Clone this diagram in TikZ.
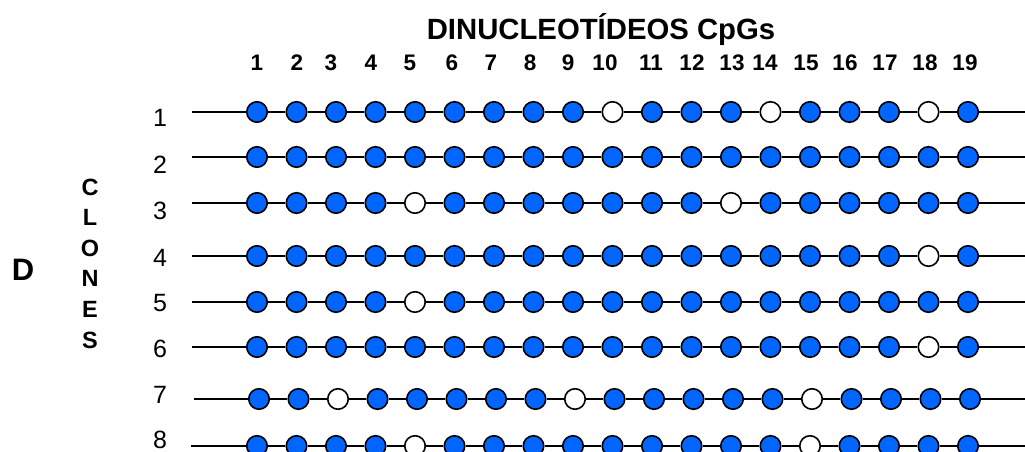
\documentclass[tikz,border=0pt]{standalone}
\usepackage{fontspec}
\setmainfont{Liberation Sans}
\definecolor{cpgblue}{RGB}{0,102,255}
\begin{document}
\begin{tikzpicture}[x=1pt,y=-1pt,
  meth/.style={circle,draw=black,line width=1.6pt,fill=cpgblue,minimum size=20.5pt,inner sep=0pt},
  unme/.style={meth,fill=white},
  strand/.style={line width=1.6pt,draw=black},
  collabel/.style={font=\fontsize{22.5}{22.5}\selectfont\bfseries,inner sep=0pt},
  rowlabel/.style={font=\fontsize{25}{25}\selectfont,inner sep=0pt},
  vletter/.style={font=\fontsize{23.5}{23.5}\selectfont\bfseries,inner sep=0pt}]
\useasboundingbox (0,0) rectangle (1025,452);
\clip (0,0) rectangle (1025,452);

\node[font=\fontsize{29.3}{30}\selectfont\bfseries,inner sep=0pt] (title) at (601,30) {DINUCLEOTÍDEOS CpGs};

\foreach \n/\x in {1/257,2/297,3/331,4/371,5/410,6/452,7/491,8/530,9/568,10/605,11/651,12/692,13/732,14/765,15/806,16/845,17/885,18/925,19/965}
  \node[collabel] (col\n) at (\x,63) {\n};

\node[font=\fontsize{31}{31}\selectfont\bfseries,inner sep=0pt] (dlabel) at (23,270) {D};

\foreach \l [count=\k] in {C,L,O,N,E,S}
  \node[vletter] (cl\k) at (90,{187+30.6*(\k-1)}) {\l};

\foreach \r/\y/\dx/\sx/\ly/\pat in {
  1/112/0/192/118/{meth,meth,meth,meth,meth,meth,meth,meth,meth,unme,meth,meth,meth,unme,meth,meth,meth,unme,meth},
  2/157/0/192/165/{meth,meth,meth,meth,meth,meth,meth,meth,meth,meth,meth,meth,meth,meth,meth,meth,meth,meth,meth},
  3/203/0/192/211/{meth,meth,meth,meth,unme,meth,meth,meth,meth,meth,meth,meth,unme,meth,meth,meth,meth,meth,meth},
  4/256/0/192/258/{meth,meth,meth,meth,meth,meth,meth,meth,meth,meth,meth,meth,meth,meth,meth,meth,meth,unme,meth},
  5/302/0/192/303/{meth,meth,meth,meth,unme,meth,meth,meth,meth,meth,meth,meth,meth,meth,meth,meth,meth,meth,meth},
  6/347/0/192/349/{meth,meth,meth,meth,meth,meth,meth,meth,meth,meth,meth,meth,meth,meth,meth,meth,meth,unme,meth},
  7/399/2/194/395/{meth,meth,unme,meth,meth,meth,meth,meth,unme,meth,meth,meth,meth,meth,unme,meth,meth,meth,meth},
  8/446/0/191/440/{meth,meth,meth,meth,unme,meth,meth,meth,meth,meth,meth,meth,meth,meth,unme,meth,meth,meth,meth}}
{
  \node[rowlabel] (rl\r) at (160,\ly) {\r};
  \coordinate (s\r) at (\sx,\y);
  \coordinate (e\r) at (1025,\y);
  \foreach \s [count=\i] in \pat
    \node[\s] (c\r-\i) at ({257+39.5*(\i-1)+\dx},\y) {};
  \draw[strand] (s\r) -- (c\r-1);
  \foreach \i [remember=\i as \j (initially 1)] in {2,...,19}
    \draw[strand] (c\r-\j) -- (c\r-\i);
  \draw[strand] (c\r-19) -- (e\r);
}
\end{tikzpicture}
\end{document}
